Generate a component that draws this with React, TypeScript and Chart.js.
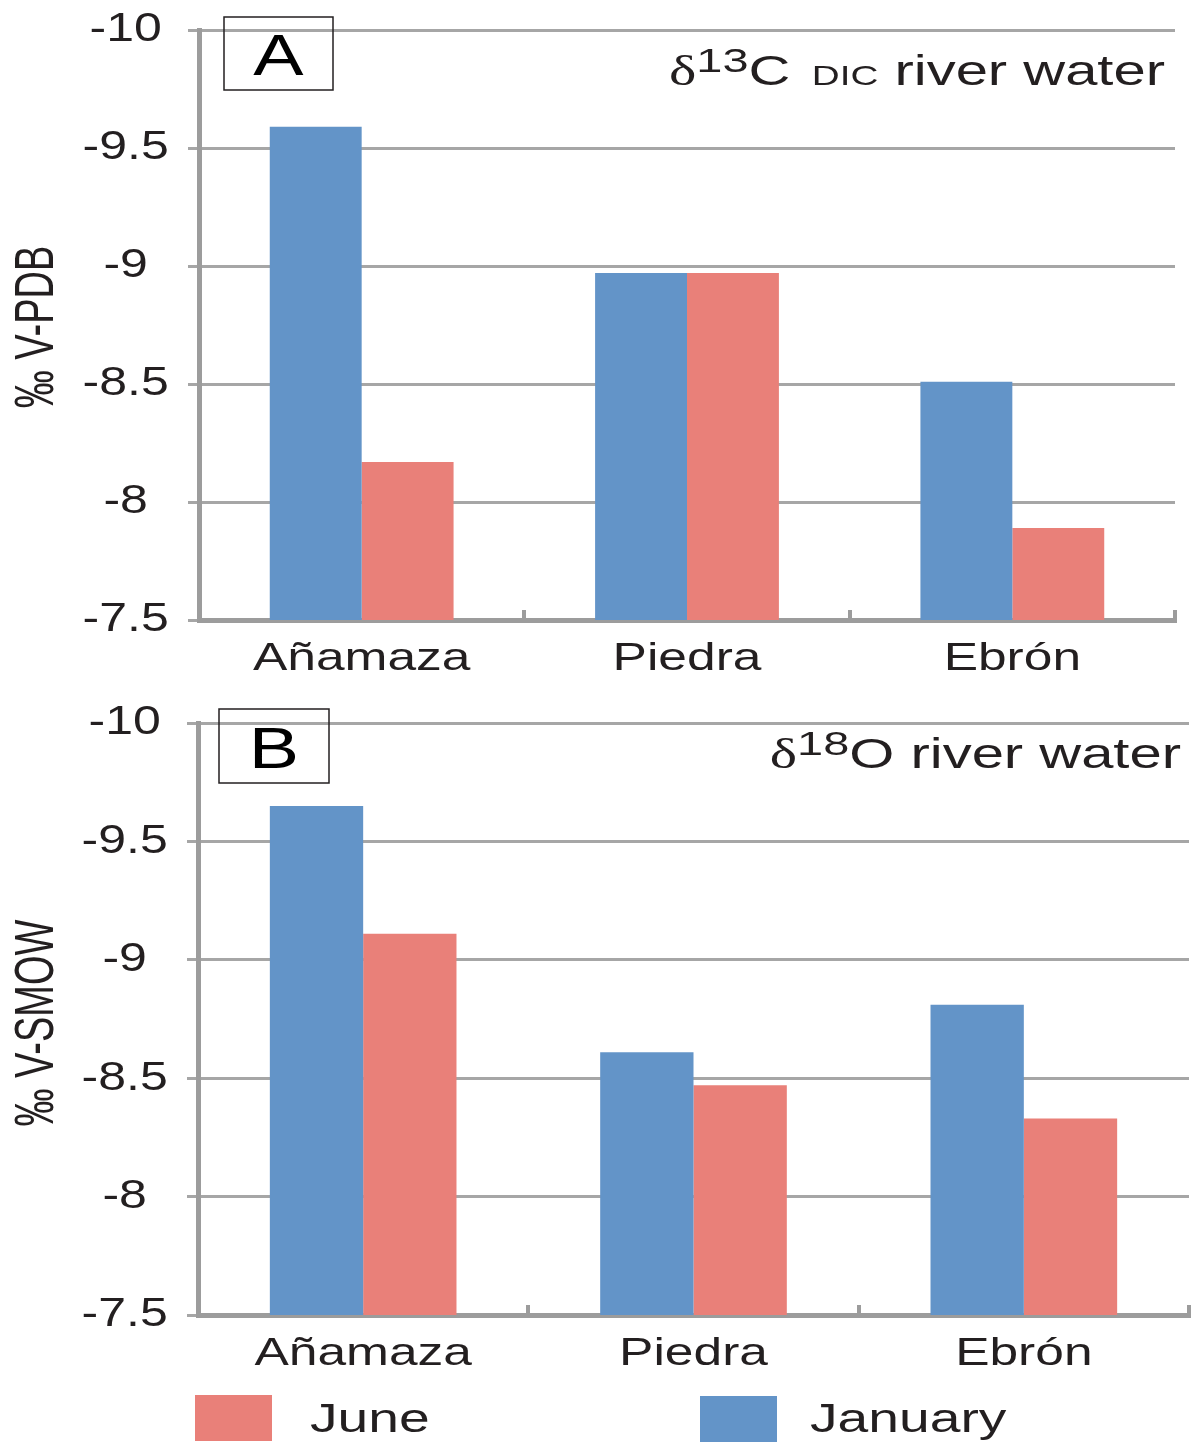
import React, { useEffect, useRef } from 'react';
import { Chart, registerables } from 'chart.js';

Chart.register(...registerables);

// ---------- data ----------
const categories = ['Añamaza', 'Piedra', 'Ebrón'];
const seriesLabels = ['January', 'June'];
const carbonJanuary = [-9.59, -8.97, -8.51];
const carbonJune = [-8.17, -8.97, -7.89];
const oxygenJanuary = [-9.65, -8.61, -8.81];
const oxygenJune = [-9.11, -8.47, -8.33];
const yTickValues = [-10, -9.5, -9, -8.5, -8, -7.5];
const yTickLabels = ['-10', '-9.5', '-9', '-8.5', '-8', '-7.5'];
const legendOrder = ['June', 'January'];

// ---------- style ----------
const BLUE = '#6394C8';
const RED = '#E98079';
const INK = '#231F20';
const GRID = '#A6A6A6';
const AXIS = '#9C9C9C';
const W = 1196;
const SANS = '"Liberation Sans", Arial, sans-serif';
const SERIF = '"Liberation Serif", "Times New Roman", serif';

type TitlePart = { text: string; font: string; dy?: number };

interface Panel {
  top: number;
  height: number;
  plotTop: number;
  plotBottom: number;
  plotLeft: number;
  plotRight: number;
  january: number[];
  june: number[];
  letter: string;
  box: [number, number, number, number];
  letterBaseline: number;
  title: TitlePart[];
  titleRight: number;
  titleBaseline: number;
  yTitle: string;
  yTitleY: number;
  legend: boolean;
}

const panels: Panel[] = [
  {
    top: 0,
    height: 690,
    plotTop: 30,
    plotBottom: 620,
    plotLeft: 199,
    plotRight: 1175,
    january: carbonJanuary,
    june: carbonJune,
    letter: 'A',
    box: [224, 17, 109, 73],
    letterBaseline: 75,
    title: [
      { text: 'δ', font: `42px ${SERIF}` },
      { text: '13', font: `34px ${SANS}`, dy: -13 },
      { text: 'C', font: `42px ${SANS}` },
      { text: '  DIC', font: `28px ${SANS}` },
      { text: ' river water', font: `42px ${SANS}` },
    ],
    titleRight: 1165,
    titleBaseline: 85,
    yTitle: '‰ V-PDB',
    yTitleY: 327,
    legend: false,
  },
  {
    top: 690,
    height: 755,
    plotTop: 33,
    plotBottom: 625,
    plotLeft: 198,
    plotRight: 1189,
    january: oxygenJanuary,
    june: oxygenJune,
    letter: 'B',
    box: [219, 19, 110, 74],
    letterBaseline: 78,
    title: [
      { text: 'δ', font: `42px ${SERIF}` },
      { text: '18', font: `34px ${SANS}`, dy: -13 },
      { text: 'O', font: `42px ${SANS}` },
      { text: ' river water', font: `42px ${SANS}` },
    ],
    titleRight: 1181,
    titleBaseline: 78,
    yTitle: '‰ V-SMOW',
    yTitleY: 333,
    legend: true,
  },
];

function makeDecorPlugin(p: Panel) {
  return {
    id: 'decor' + p.letter,
    afterLayout(chart: any) {
      // draw tick labels horizontally stretched around their own anchor
      const patch = (scale: any, sx: number) => {
        if (!scale || scale.__patched) return;
        const orig = scale.drawLabels;
        scale.drawLabels = function (ca: any) {
          const ctx: any = this.ctx;
          const protoRotate = CanvasRenderingContext2D.prototype.rotate;
          ctx.rotate = function (a: number) {
            protoRotate.call(this, a);
            this.scale(sx, 1);
          };
          try {
            orig.call(this, ca);
          } finally {
            delete ctx.rotate;
          }
        };
        scale.__patched = true;
      };
      patch(chart.scales.x, 1.32);
      patch(chart.scales.y, 1.22);
    },
    afterDraw(chart: any) {
      const ctx: CanvasRenderingContext2D = chart.ctx;
      ctx.save();
      ctx.fillStyle = INK;
      ctx.strokeStyle = INK;

      // panel letter box
      const [bx, by, bw, bh] = p.box;
      ctx.lineWidth = 1.5;
      ctx.strokeRect(bx, by, bw, bh);
      ctx.save();
      ctx.translate(bx + bw / 2, p.letterBaseline);
      ctx.scale(1.3, 1);
      ctx.font = `58px ${SANS}`;
      ctx.textAlign = 'center';
      ctx.textBaseline = 'alphabetic';
      ctx.fillStyle = '#000';
      ctx.fillText(p.letter, 0, 0);
      ctx.restore();

      // title (right aligned, horizontally stretched)
      const sx = 1.38;
      let total = 0;
      const widths = p.title.map((part) => {
        ctx.font = part.font;
        const w = ctx.measureText(part.text).width;
        total += w;
        return w;
      });
      ctx.save();
      ctx.translate(p.titleRight - total * sx, p.titleBaseline);
      ctx.scale(sx, 1);
      ctx.textAlign = 'left';
      ctx.textBaseline = 'alphabetic';
      let cx = 0;
      p.title.forEach((part, i) => {
        ctx.font = part.font;
        ctx.fillText(part.text, cx, part.dy || 0);
        cx += widths[i];
      });
      ctx.restore();

      // y axis title
      ctx.save();
      ctx.translate(38, p.yTitleY);
      ctx.rotate(-Math.PI / 2);
      ctx.scale(1, 1.45);
      ctx.font = `38px ${SANS}`;
      ctx.textAlign = 'center';
      ctx.textBaseline = 'middle';
      ctx.fillText(p.yTitle, 0, 0);
      ctx.restore();

      // legend
      if (p.legend) {
        const items = legendOrder.map((name) => {
          const ds = chart.data.datasets.find((d: any) => d.label === name);
          return { name, color: ds ? ds.backgroundColor : '#000' };
        });
        const spots = [
          { sw: [195, 705, 77, 46], tx: 310 },
          { sw: [700, 706, 77, 46], tx: 810 },
        ];
        items.forEach((it, i) => {
          const s = spots[i];
          ctx.fillStyle = it.color;
          ctx.fillRect(s.sw[0], s.sw[1], s.sw[2], s.sw[3]);
          ctx.save();
          ctx.translate(s.tx, 742);
          ctx.scale(1.38, 1);
          ctx.fillStyle = INK;
          ctx.font = `40px ${SANS}`;
          ctx.textAlign = 'left';
          ctx.textBaseline = 'alphabetic';
          ctx.fillText(it.name, 0, 0);
          ctx.restore();
        });
      }
      ctx.restore();
    },
  };
}

function PanelChart({ p }: { p: Panel }) {
  const ref = useRef<HTMLCanvasElement | null>(null);
  useEffect(() => {
    if (!ref.current) return;
    const chart = new Chart(ref.current, {
      type: 'bar',
      data: {
        labels: categories,
        datasets: [
          {
            label: seriesLabels[0],
            data: p.january,
            backgroundColor: BLUE,
            borderWidth: 0,
            barPercentage: 1,
            categoryPercentage: 0.565,
          },
          {
            label: seriesLabels[1],
            data: p.june,
            backgroundColor: RED,
            borderWidth: 0,
            barPercentage: 1,
            categoryPercentage: 0.565,
          },
        ],
      },
      options: {
        responsive: false,
        animation: false,
        devicePixelRatio: 1,
        layout: {
          padding: { left: 0, top: p.plotTop, right: W - p.plotRight, bottom: 0 },
        },
        plugins: {
          legend: { display: false },
          tooltip: { enabled: false },
          title: { display: false },
        },
        scales: {
          x: {
            offset: true,
            ticks: {
              font: { family: 'Liberation Sans', size: 39 },
              color: INK,
              padding: 26,
              maxRotation: 0,
              autoSkip: false,
            },
            grid: {
              offset: true,
              drawOnChartArea: false,
              drawTicks: true,
              tickLength: -10,
              color: AXIS,
              lineWidth: 4,
            },
            border: { color: AXIS, width: 5 },
            afterFit: (s: any) => {
              s.height = p.height - p.plotBottom;
              s.paddingLeft = 0;
              s.paddingRight = 0;
            },
          },
          y: {
            min: -10,
            max: -7.5,
            reverse: true,
            afterBuildTicks: (s: any) => {
              s.ticks = yTickValues.map((v) => ({ value: v }));
            },
            ticks: {
              callback: (v: any) => {
                const i = yTickValues.indexOf(Number(v));
                return i >= 0 ? yTickLabels[i] : '';
              },
              font: { family: 'Liberation Sans', size: 41 },
              color: INK,
              padding: 27,
              crossAlign: 'center',
            },
            grid: {
              color: GRID,
              lineWidth: 3,
              tickLength: 11,
              drawTicks: true,
            },
            border: { color: AXIS, width: 5 },
            afterFit: (s: any) => {
              s.width = p.plotLeft;
              s.paddingTop = 0;
              s.paddingBottom = 0;
            },
          },
        },
      } as any,
      plugins: [makeDecorPlugin(p)],
    });
    return () => chart.destroy();
  }, [p]);
  return (
    <canvas
      ref={ref}
      width={W}
      height={p.height}
      style={{ position: 'absolute', left: 0, top: p.top, width: W, height: p.height }}
    />
  );
}

export default function App() {
  return (
    <div
      style={{
        position: 'absolute',
        left: 0,
        top: 0,
        width: W,
        height: 1445,
        background: '#fff',
        overflow: 'hidden',
      }}
    >
      {panels.map((p) => (
        <PanelChart key={p.letter} p={p} />
      ))}
    </div>
  );
}
